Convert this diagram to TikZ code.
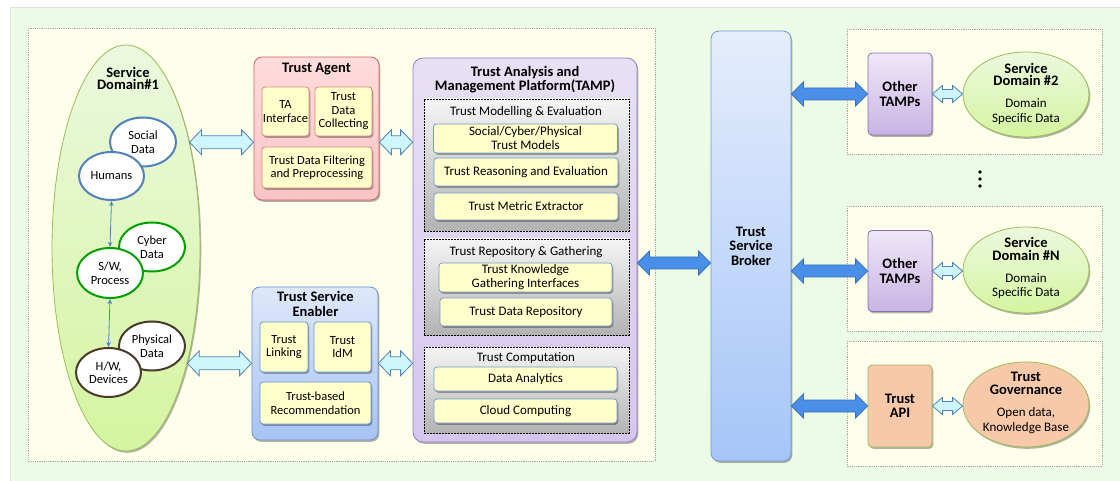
\documentclass[tikz,border=0pt]{standalone}
\usepackage{fontspec}
\setmainfont{Carlito}
\usetikzlibrary{shapes.geometric,calc,shadows,arrows.meta}

\definecolor{bggreen}{HTML}{EBFBE6}
\definecolor{panelyel}{HTML}{FEFFEA}
\definecolor{boxyel}{HTML}{FFFFCC}
\definecolor{sdborder}{HTML}{9BBB59}
\definecolor{sdtop}{HTML}{ECF8DE}
\definecolor{sdbot}{HTML}{D4F5A0}
\definecolor{hblue}{HTML}{4F81BD}
\definecolor{hgreen}{HTML}{00A000}
\definecolor{hbrown}{HTML}{4A3A2A}
\definecolor{tatop}{HTML}{FFDCDC}
\definecolor{tabot}{HTML}{F9C4C4}
\definecolor{taborder}{HTML}{D06464}
\definecolor{tsetop}{HTML}{DEE8FA}
\definecolor{tsebot}{HTML}{A7C3F3}
\definecolor{tseborder}{HTML}{6A93CF}
\definecolor{tamptop}{HTML}{E8E0F4}
\definecolor{tampbot}{HTML}{D5C6EE}
\definecolor{tampborder}{HTML}{9A7CC8}
\definecolor{brtop}{HTML}{E4EDFC}
\definecolor{brbot}{HTML}{A6C5F8}
\definecolor{brborder}{HTML}{6F9BD1}
\definecolor{arrblue}{HTML}{4A8FE7}
\definecolor{arrblueb}{HTML}{3A6FB5}
\definecolor{arrcyan}{HTML}{CFF6FC}
\definecolor{ottop}{HTML}{EFE7F9}
\definecolor{otbot}{HTML}{C8B4E3}
\definecolor{otborder}{HTML}{8B6DB5}
\definecolor{peach}{HTML}{F7C9A9}

\newcommand\myreg{\fontsize{12.5}{13.5}\selectfont}
\newcommand\myregb{\fontsize{13}{14}\selectfont}
\newcommand\mybold{\fontsize{14.5}{14.5}\selectfont\bfseries}
\newcommand\mytitle{\fontsize{14.5}{12.8}\selectfont\bfseries}
\newcommand\mygrp{\fontsize{13}{14.5}\selectfont}

\tikzset{
  fat/.style n args={3}{to path={let \p1=(\tikztostart), \p2=(\tikztotarget) in
    (\x1,\y1) -- (\x1+#1,\y1+#2) -- (\x1+#1,\y1+#3) -- (\x2-#1,\y1+#3) -- (\x2-#1,\y1+#2)
    -- (\x2,\y1) -- (\x2-#1,\y1-#2) -- (\x2-#1,\y1-#3) -- (\x1+#1,\y1-#3) -- (\x1+#1,\y1-#2) -- cycle}},
  hollow/.style={fat={12pt}{12.5pt}{6.5pt}, fill=arrcyan, draw=hblue, line width=0.8pt},
  hollowsm/.style={fat={10pt}{8.5pt}{4.5pt}, fill=arrcyan, draw=hblue, line width=0.8pt},
  bluearr/.style={fat={12pt}{12pt}{6pt}, fill=arrblue, draw=arrblueb, line width=0.8pt},
  thinarr/.style={{Stealth[length=5pt,width=4.5pt]}-{Stealth[length=5pt,width=4.5pt]}, draw=hblue, line width=0.8pt},
  sh/.style={drop shadow={shadow xshift=1.3pt,shadow yshift=-1.8pt,opacity=0.3,fill=black}},
  panel/.style={fill=panelyel, draw=black!35, line width=0.5pt, dash pattern=on 1.2pt off 1pt},
  circ/.style={ellipse, fill=white, line width=2pt, font=\myreg, inner sep=0pt},
  ybox/.style={rectangle, rounded corners=3pt, fill=boxyel, line width=0.8pt, sh, font=\myreg},
  gbox/.style={ybox, draw=hblue!80, font=\myregb},
  grp/.style={rectangle, top color=black!4, bottom color=black!30, draw=black, line width=0.8pt, dash pattern=on 2pt off 1pt},
  otbox/.style={rectangle, rounded corners=4pt, top color=ottop, bottom color=otbot, draw=otborder, line width=0.8pt, sh, font=\mybold, minimum width=64pt},
  sdell/.style={ellipse, top color=sdtop, bottom color=sdbot, draw=sdborder, line width=0.8pt, sh, minimum width=126pt, minimum height=85pt},
  etitle/.style={font=\mytitle},
  esub/.style={font=\mygrp},
}

\begin{document}
\begin{tikzpicture}[x=1pt,y=-1pt, every node/.style={inner sep=0pt, align=center}]
\useasboundingbox (0,0) rectangle (1120,481);
% background
\fill[white] (0,0) rectangle (1120,481);
\fill[bggreen] (10,8) rectangle (1120,481);
\draw[black!12, line width=1pt] (10,481) -- (10,8) -- (1120,8);

% panels
\path[panel] (28,28) rectangle (655,461);
\path[panel] (847,29) rectangle (1102,154);
\path[panel] (847,206) rectangle (1102,331);
\path[panel] (847,341) rectangle (1102,466);

% Service Domain #1
\node[ellipse, top color=sdtop, bottom color=sdbot, draw=sdborder, line width=0.8pt, sh,
      minimum width=148pt, minimum height=406pt] (sd1) at (126,248) {};
\node[font=\mytitle] (sd1t) at (128,78.5) {Service\\Domain\#1};

\node[circ, draw=hblue, minimum width=66pt, minimum height=49pt] (soc) at (143,142) {Social\\Data};
\node[circ, draw=hblue, minimum width=65pt, minimum height=48pt] (hum) at (111.5,176) {Humans};
\node[circ, draw=hgreen, minimum width=66pt, minimum height=49pt] (cyb) at (152,247) {Cyber\\Data};
\node[circ, draw=hgreen, minimum width=66pt, minimum height=50pt] (sw) at (110,273) {S/W,\\Process};
\node[circ, draw=hbrown, minimum width=66pt, minimum height=49pt] (phy) at (152,346) {Physical\\Data};
\node[circ, draw=hbrown, minimum width=65pt, minimum height=49pt] (hw) at (108.5,372.5) {H/W,\\Devices};

\draw[thinarr] (hum.south) -- (sw.north);
\draw[thinarr] (sw.south) -- (hw.north);

% Trust Agent
\node[rectangle, rounded corners=8pt, top color=tatop, bottom color=tabot, draw=taborder, line width=0.8pt, sh,
      minimum width=125pt, minimum height=143pt] (ta) at (316.5,128.5) {};
\node[font=\mybold] (tat) at (316.5,69) {Trust Agent};
\node[ybox, draw=taborder!80, minimum width=47pt, minimum height=49pt] (tai) at (285.5,111.5) {TA\\Interface};
\node[ybox, draw=taborder!80, minimum width=57pt, minimum height=49pt] (tdc) at (343.5,111.5) {Trust\\Data\\Collecting};
\node[ybox, draw=taborder!80, minimum width=110pt, minimum height=41pt] (tdf) at (317,167.5) {Trust Data Filtering\\and Preprocessing};

% Trust Service Enabler
\node[rectangle, rounded corners=8pt, top color=tsetop, bottom color=tsebot, draw=tseborder, line width=0.8pt, sh,
      minimum width=126pt, minimum height=153pt] (tse) at (315,363.5) {};
\node[font=\mybold] (tset) at (315.5,304) {Trust Service\\Enabler};
\node[ybox, draw=tseborder, minimum width=48pt, minimum height=50pt] (tl) at (284,347) {Trust\\Linking};
\node[ybox, draw=tseborder, minimum width=57pt, minimum height=50pt] (tid) at (342.5,347) {Trust\\IdM};
\node[ybox, draw=tseborder, minimum width=111pt, minimum height=42pt] (trec) at (315.5,403) {Trust-based\\Recommendation};

% TAMP
\node[rectangle, rounded corners=10pt, top color=tamptop, bottom color=tampbot, draw=tampborder, line width=0.8pt, sh,
      minimum width=224pt, minimum height=384pt] (tamp) at (525,250) {};
\node[font=\mybold] (tampt) at (525,79.5) {Trust Analysis and\\Management Platform(TAMP)};

\node[grp, minimum width=205pt, minimum height=132pt] (g1) at (526.5,165) {};
\node[font=\mygrp] (g1t) at (526,112) {Trust Modelling \& Evaluation};
\node[gbox, minimum width=184pt, minimum height=29pt] (m1) at (525.5,138.5) {Social/Cyber/Physical\\Trust Models};
\node[gbox, minimum width=184pt, minimum height=28pt] (m2) at (526,172) {Trust Reasoning and Evaluation};
\node[gbox, minimum width=184pt, minimum height=27pt] (m3) at (526,206.5) {Trust Metric Extractor};

\node[grp, minimum width=205pt, minimum height=96pt] (g2) at (526.5,287) {};
\node[font=\mygrp] (g2t) at (526,252) {Trust Repository \& Gathering};
\node[gbox, minimum width=173pt, minimum height=29pt] (r1) at (525.5,277.5) {Trust Knowledge\\Gathering Interfaces};
\node[gbox, minimum width=172pt, minimum height=28pt] (r2) at (526,312) {Trust Data Repository};

\node[grp, minimum width=205pt, minimum height=86pt] (g3) at (526.5,390) {};
\node[font=\mygrp] (g3t) at (526,358) {Trust Computation};
\node[gbox, minimum width=183pt, minimum height=24pt] (c1) at (525.5,379) {Data Analytics};
\node[gbox, minimum width=183pt, minimum height=24pt] (c2) at (525.5,411) {Cloud Computing};

% Broker
\node[rectangle, rounded corners=8pt, top color=brtop, bottom color=brbot, draw=brborder, line width=0.8pt, sh,
      minimum width=80pt, minimum height=430pt, font=\mybold] (br) at (751,246) {Trust\\Service\\Broker};

% right side
\node[otbox, minimum height=82pt] (ot1) at (900,94) {Other\\TAMPs};
\node[sdell] (sd2) at (1026,94.5) {};
\node[etitle] (sd2t) at ([yshift=20pt]sd2.center) {Service\\Domain \#2};
\node[esub] (sd2s) at ([yshift=-17pt]sd2.center) {Domain\\Specific Data};

\node[otbox, minimum height=81pt] (ot2) at (900,271) {Other\\TAMPs};
\node[sdell, minimum height=86pt] (sdn) at (1026,270) {};
\node[etitle] (sdnt) at ([yshift=21pt]sdn.center) {Service\\Domain \#N};
\node[esub] (sdns) at ([yshift=-16pt]sdn.center) {Domain\\Specific Data};

\node[rectangle, rounded corners=4pt, fill=peach, draw=sdborder, line width=0.8pt, sh, font=\mybold,
      minimum width=64pt, minimum height=82pt] (api) at (900,406) {Trust\\API};
\node[ellipse, fill=peach, draw=sdborder, line width=0.8pt, sh, minimum width=126pt, minimum height=85pt] (gov) at (1026,404.5) {};
\node[etitle] (govt) at ([yshift=21.5pt]gov.center) {Trust\\Governance};
\node[esub] (govs) at ([yshift=-16pt]gov.center) {Open data,\\Knowledge Base};

\fill[black] (980,172) circle (1.8) (980,179) circle (1.8) (980,186) circle (1.8);

% connectors
\draw[hollow] (sd1.59.7) to (ta.west);
\draw[hollow] (sd1.-62) to (tse.west);
\draw[hollow] (ta.east |- sd1.59.7) to (tamp.west);
\draw[hollow] (tse.east |- sd1.-62) to (tamp.west);
\draw[bluearr] ([yshift=-13pt]tamp.east) to (br.west);
\draw[bluearr] (br.east |- ot1.west) to (ot1.west);
\draw[bluearr] (br.east |- ot2.west) to (ot2.west);
\draw[bluearr] (br.east |- api.west) to (api.west);
\draw[hollowsm] (ot1.east) to (sd2.west);
\draw[hollowsm] (ot2.east) to (sdn.west);
\draw[hollowsm] (api.east) to (gov.west);
\end{tikzpicture}
\end{document}
